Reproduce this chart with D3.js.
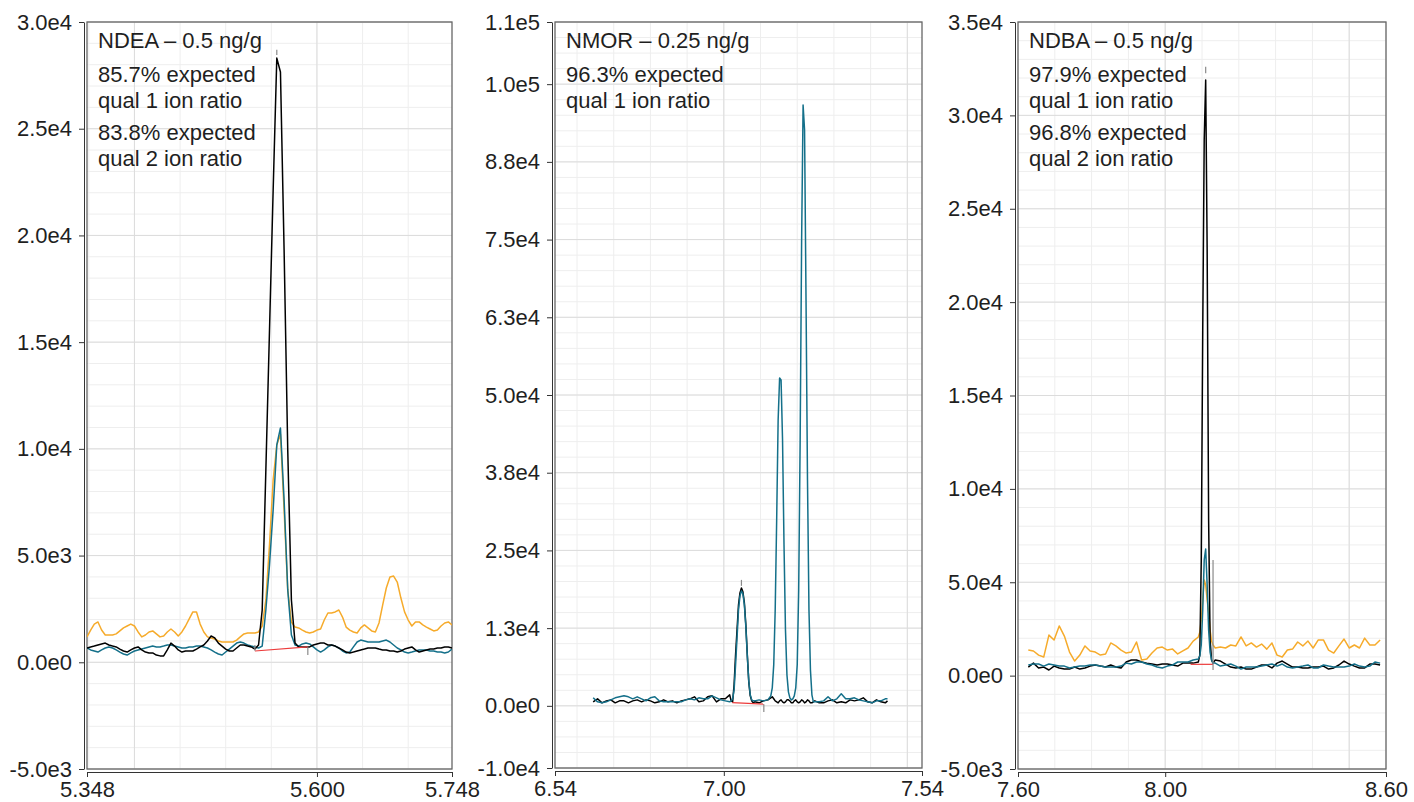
<!DOCTYPE html>
<html>
<head>
<meta charset="utf-8">
<script src="https://d3js.org/d3.v7.min.js"></script>
<style>
  body { margin: 0; background: #fff; }
  svg text { font-family: "Liberation Sans", Arial, sans-serif; fill: #1f1f1f; }
</style>
</head>
<body>
<div id="chart"></div>
<script>
"use strict"

// ---- NDEA (panel 1) ----
var ndeaTime = [5.348,5.352,5.356,5.360,5.364,5.368,5.372,5.376,5.380,5.384,
  5.388,5.392,5.396,5.400,5.404,5.408,5.412,5.416,5.420,5.424,
  5.428,5.432,5.436,5.440,5.444,5.448,5.452,5.456,5.460,5.464,
  5.468,5.472,5.476,5.480,5.484,5.488,5.492,5.496,5.500,5.504,
  5.508,5.512,5.516,5.520,5.524,5.528,5.532,5.536,5.540,5.544,
  5.548,5.552,5.556,5.560,5.564,5.568,5.572,5.576,5.580,5.584,
  5.588,5.592,5.596,5.600,5.604,5.608,5.612,5.616,5.620,5.624,
  5.628,5.632,5.636,5.640,5.644,5.648,5.652,5.656,5.660,5.664,
  5.668,5.672,5.676,5.680,5.684,5.688,5.692,5.696,5.700,5.704,
  5.708,5.712,5.716,5.720,5.724,5.728,5.732,5.736,5.740,5.744,
  5.748];
var ndeaQuant = [670,720,760,810,860,900,810,760,720,620,
  530,480,580,670,720,580,480,440,440,340,
  300,300,580,900,760,580,480,530,530,530,
  620,720,810,1000,1230,1140,900,760,620,530,
  530,670,810,810,760,720,620,810,2450,9000,
  15560,22120,28310,27660,19320,9930,2920,900,720,720,
  720,720,810,860,900,900,810,810,760,670,
  580,480,440,480,530,580,620,670,670,670,
  620,580,580,530,530,480,530,620,670,720,
  580,480,530,580,620,620,670,670,720,720,
  670];
var ndeaQual1 = [670,580,530,480,580,670,720,670,580,480,
  390,340,440,530,580,620,670,720,760,720,
  720,760,810,810,760,720,670,670,720,720,
  760,760,720,670,580,480,390,340,480,620,
  760,900,950,900,810,760,720,670,760,2450,
  4560,7140,10180,10980,7610,3390,1280,810,760,860,
  900,860,720,580,480,580,720,810,760,670,
  530,440,480,720,950,1040,1000,950,950,950,
  950,1000,1040,950,810,670,580,480,440,480,
  530,580,580,580,530,530,480,480,440,480,
  620];
var ndeaQual2 = [1190,1510,1790,1890,1510,1280,1280,1280,1330,1470,
  1610,1700,1790,1700,1420,1190,1280,1420,1470,1330,
  1190,1230,1420,1560,1420,1230,1420,1700,2030,2360,
  2360,1790,1420,1190,1140,1090,1000,950,950,950,
  950,1040,1190,1330,1370,1370,1370,1420,1700,2920,
  5500,8540,10180,10690,7140,3390,1890,1650,1610,1510,
  1420,1370,1420,1510,1560,1980,2310,2310,2360,2450,
  2120,1650,1510,1420,1370,1610,1750,1610,1470,1420,
  1840,2680,3480,4000,4040,3760,3010,2360,1980,1700,
  1890,1890,1750,1650,1560,1470,1510,1700,1840,1890,
  1750];
var ndeaBaseTime = [5.532, 5.590];
var ndeaBaseValue = [530, 720];
var ndeaMarks = [[5.556, 28450, 28700], [5.532, 540, 810], [5.590, 700, 340]];
var ndeaXTicks = [5.348, 5.600, 5.748];
var ndeaXLabels = ["5.348", "5.600", "5.748"];
var ndeaYTicks = [-5000, 0, 5000, 10000, 15000, 20000, 25000, 30000];
var ndeaYLabels = ["-5.0e3", "0.0e0", "5.0e3", "1.0e4", "1.5e4", "2.0e4", "2.5e4", "3.0e4"];
var ndeaNotes = [["NDEA – 0.5 ng/g"], ["85.7% expected", "qual 1 ion ratio"], ["83.8% expected", "qual 2 ion ratio"]];

// ---- NMOR (panel 2) ----
var nmorTime = [6.644,6.656,6.668,6.680,6.692,6.704,6.716,6.728,6.740,6.752,
  6.764,6.776,6.788,6.800,6.812,6.824,6.836,6.848,6.860,6.872,
  6.884,6.896,6.908,6.920,6.932,6.944,6.956,6.968,6.980,6.992,
  7.004,7.016,
  7.020,7.024,7.028,7.032,7.036,7.040,7.044,7.048,7.052,7.056,7.060,7.064,7.068,7.072,7.076,7.080,7.084,
  7.096,7.108,7.120,
  7.124,7.128,7.132,7.136,7.140,7.144,7.148,7.152,7.156,7.160,7.164,7.168,7.172,7.176,7.180,7.184,
  7.188,7.192,7.196,7.200,7.204,7.208,7.212,7.216,7.220,7.224,7.228,7.232,7.236,7.240,7.244,7.248,
  7.260,7.272,7.284,7.296,7.308,7.320,7.332,7.344,7.356,7.368,7.380,7.392,7.404,7.416,7.428,7.440,7.446];
var nmorQuant = [640,1130,480,800,960,480,800,800,480,800,
  960,640,960,800,480,640,960,640,800,480,
  800,960,1130,1450,640,800,1450,1610,640,1130,
  1130,1770,
  800,640,3380,8200,12220,16240,18170,18970,18330,16560,13020,8200,3860,1610,800,480,640,
  480,800,960,
  1130,1290,1450,1130,800,640,480,800,960,640,480,640,960,960,800,480,
  480,800,960,640,480,640,960,800,480,640,960,800,480,480,640,800,
  480,480,800,960,480,640,480,960,800,960,1290,640,480,960,640,480,800];
var nmorQual1 = [1290,640,480,640,960,1290,1450,1610,1450,1130,
  1450,1130,800,1290,1450,800,640,640,640,640,
  640,960,1130,960,1290,1130,1130,1610,1290,960,
  800,640,
  800,1130,2570,6590,10930,15440,17690,18490,18010,16240,12700,8040,4020,1770,960,800,800,
  960,800,960,
  1290,1610,2890,6590,15440,29910,45990,52740,52420,42770,25890,12220,4980,2250,1290,960,
  1130,1610,2890,6590,18650,42770,74930,96640,92620,65280,36340,15440,5790,1770,640,640,
  640,800,1450,800,1130,1930,1130,1130,1290,960,800,640,480,800,800,1130,1130];
var nmorBaseTime = [7.023, 7.109];
var nmorBaseValue = [530, 270];
var nmorMarks = [[7.048, 19300, 20260], [7.109, 270, -1000]];
var nmorXTicks = [6.54, 7.00, 7.54];
var nmorXLabels = ["6.54", "7.00", "7.54"];
var nmorYTicks = [-10000, 0, 12500, 25000, 37500, 50000, 62500, 75000, 87500, 100000, 110000];
var nmorYLabels = ["-1.0e4", "0.0e0", "1.3e4", "2.5e4", "3.8e4", "5.0e4", "6.3e4", "7.5e4", "8.8e4", "1.0e5", "1.1e5"];
var nmorNotes = [["NMOR – 0.25 ng/g"], ["96.3% expected", "qual 1 ion ratio"]];

// ---- NDBA (panel 3) ----
var ndbaTime = [7.628,7.642,7.656,7.670,7.684,7.698,7.712,7.726,7.740,7.754,
  7.768,7.782,7.796,7.810,7.824,7.838,7.852,7.866,7.880,7.894,
  7.908,7.922,7.936,7.950,7.964,7.978,7.992,8.006,8.020,8.034,
  8.048,8.062,8.076,
  8.090,8.094,8.098,8.102,8.106,8.110,8.114,8.118,8.122,8.126,8.130,
  8.136,8.150,8.164,8.178,8.192,8.206,8.220,8.234,8.248,8.262,
  8.276,8.290,8.304,8.318,8.332,8.346,8.360,8.374,8.388,8.402,
  8.416,8.430,8.444,8.458,8.472,8.486,8.500,8.514,8.528,8.542,
  8.556,8.570,8.584];
var ndbaQuant = [460,670,410,460,300,510,410,350,350,460,
  350,410,510,570,510,460,570,460,410,730,
  840,840,730,670,620,570,620,620,570,510,
  670,670,670,
  730,1100,6190,18490,28680,31890,22790,8330,1910,840,670,
  840,780,620,460,410,460,350,350,460,570,
  570,410,670,780,620,460,460,410,410,460,
  460,510,350,410,570,780,620,510,410,410,
  620,620,570];
var ndbaQual1 = [570,620,620,510,620,570,510,510,410,460,
  510,510,570,570,510,460,460,460,510,670,
  620,730,730,620,570,460,410,510,570,730,
  730,730,840,
  890,1050,1640,3510,6190,6780,4850,2440,1260,840,670,
  670,510,570,620,510,350,460,460,460,510,
  570,620,510,620,460,410,460,510,570,410,
  410,570,510,460,460,460,510,620,510,460,
  510,730,670];
var ndbaQual2 = [1370,1320,1100,1000,2170,1910,2660,2120,1260,780,
  1100,1590,1320,1260,1100,1160,1750,1590,1370,1210,
  1260,1800,840,890,1210,1480,1530,1370,1420,1160,
  1320,1480,1850,
  2070,2330,2980,4050,5120,4850,4050,3410,2440,1850,1640,
  1480,1530,1480,1640,1590,2070,1590,1750,1530,1690,
  1420,1750,1100,1000,1370,1420,1800,1590,1850,1480,
  1910,1910,1370,1210,1590,1960,1480,1640,1480,2010,
  1640,1640,1910];
var ndbaBaseTime = [8.069, 8.130];
var ndbaBaseValue = [605, 605];
var ndbaMarks = [[8.110, 32250, 32600], [8.130, 300, 6190]];
var ndbaXTicks = [7.60, 8.00, 8.60];
var ndbaXLabels = ["7.60", "8.00", "8.60"];
var ndbaYTicks = [-5000, 0, 5000, 10000, 15000, 20000, 25000, 30000, 35000];
var ndbaYLabels = ["-5.0e3", "0.0e0", "5.0e4", "1.0e4", "1.5e4", "2.0e4", "2.5e4", "3.0e4", "3.5e4"];
var ndbaNotes = [["NDBA – 0.5 ng/g"], ["97.9% expected", "qual 1 ion ratio"], ["96.8% expected", "qual 2 ion ratio"]];

var preto = "#000000", azul = "#14708a", laranja = "#f6ab2b", vermelho = "#ec3b3b";

var svg = d3.select("#chart").append("svg")
  .attr("width", 1414)
  .attr("height", 802);

function desenhaPainel(p, idx) {
  var x = d3.scaleLinear().domain([p.xTicks[0], p.xTicks[p.xTicks.length - 1]]).range([p.left, p.right]);
  var y = d3.scaleLinear().domain([p.yTicks[0], p.yTicks[p.yTicks.length - 1]]).range([p.bottom, p.top]);
  var g = svg.append("g");

  // grid
  var minorY = d3.range(p.yTicks[0], p.yTicks[p.yTicks.length - 1] + 1, p.minorStep);
  g.selectAll(".minY").data(minorY).enter().append("line")
    .attr("x1", p.left).attr("x2", p.right)
    .attr("y1", d => y(d)).attr("y2", d => y(d))
    .attr("stroke", "#eeeeee").attr("stroke-width", 1);
  g.selectAll(".minX").data(x.ticks(8)).enter().append("line")
    .attr("x1", d => x(d)).attr("x2", d => x(d))
    .attr("y1", p.top).attr("y2", p.bottom)
    .attr("stroke", "#eeeeee").attr("stroke-width", 1);
  g.selectAll(".majY").data(p.yTicks).enter().append("line")
    .attr("x1", p.left).attr("x2", p.right)
    .attr("y1", d => y(d)).attr("y2", d => y(d))
    .attr("stroke", "#dcdcdc").attr("stroke-width", 1);
  g.selectAll(".majX").data(x.ticks(2)).enter().append("line")
    .attr("x1", d => x(d)).attr("x2", d => x(d))
    .attr("y1", p.top).attr("y2", p.bottom)
    .attr("stroke", "#dcdcdc").attr("stroke-width", 1);

  // box
  g.append("rect")
    .attr("x", p.left).attr("y", p.top)
    .attr("width", p.right - p.left).attr("height", p.bottom - p.top)
    .attr("fill", "none").attr("stroke", "#666").attr("stroke-width", 1.3);

  var clipId = "clip" + idx;
  g.append("clipPath").attr("id", clipId).append("rect")
    .attr("x", p.left).attr("y", p.top)
    .attr("width", p.right - p.left).attr("height", p.bottom - p.top);

  var tracos = g.append("g").attr("clip-path", "url(#" + clipId + ")");
  p.series.forEach(function(s) {
    var linha = d3.line()
      .x((d, i) => x(p.time[i]))
      .y(d => y(d));
    tracos.append("path")
      .datum(s.values)
      .attr("fill", "none")
      .attr("stroke", s.color)
      .attr("stroke-width", 1.5)
      .attr("stroke-linejoin", "round")
      .attr("d", linha);
  });

  // integration baseline and peak marks
  tracos.append("line")
    .attr("x1", x(p.baseTime[0])).attr("y1", y(p.baseValue[0]))
    .attr("x2", x(p.baseTime[1])).attr("y2", y(p.baseValue[1]))
    .attr("stroke", vermelho).attr("stroke-width", 1.2);
  tracos.selectAll(".mark").data(p.marks).enter().append("line")
    .attr("x1", d => x(d[0])).attr("x2", d => x(d[0]))
    .attr("y1", d => y(d[1])).attr("y2", d => y(d[2]))
    .attr("stroke", "#8a8a8a").attr("stroke-width", 1.2);

  // axes
  var eixoY = g.append("g")
    .attr("transform", "translate(" + (p.left - 3) + ",0)")
    .call(d3.axisLeft(y).tickValues(p.yTicks).tickFormat((d, i) => p.yLabels[i])
      .tickSize(5).tickSizeOuter(0).tickPadding(7));
  var eixoX = g.append("g")
    .attr("transform", "translate(0," + (p.bottom + 3) + ")")
    .call(d3.axisBottom(x).tickValues(p.xTicks).tickFormat((d, i) => p.xLabels[i])
      .tickSize(5).tickSizeOuter(0).tickPadding(4));
  [eixoY, eixoX].forEach(function(e) {
    e.attr("font-size", 22).attr("font-family", null).attr("color", "#333");
    e.selectAll("text").style("fill", "#1f1f1f");
  });

  // annotation
  var linhasY = [[48], [82, 108], [140, 166]];
  p.notes.forEach(function(bloco, b) {
    bloco.forEach(function(t, j) {
      g.append("text")
        .attr("x", p.left + 11)
        .attr("y", linhasY[b][j])
        .attr("font-size", 22)
        .text(t);
    });
  });
}

var paineis = [
  { left: 87, right: 452, top: 22, bottom: 769, minorStep: 1000,
    time: ndeaTime, xTicks: ndeaXTicks, xLabels: ndeaXLabels, yTicks: ndeaYTicks, yLabels: ndeaYLabels,
    series: [{ values: ndeaQual2, color: laranja }, { values: ndeaQual1, color: azul }, { values: ndeaQuant, color: preto }],
    baseTime: ndeaBaseTime, baseValue: ndeaBaseValue, marks: ndeaMarks, notes: ndeaNotes },
  { left: 555, right: 922, top: 22, bottom: 768, minorStep: 2500,
    time: nmorTime, xTicks: nmorXTicks, xLabels: nmorXLabels, yTicks: nmorYTicks, yLabels: nmorYLabels,
    series: [{ values: nmorQuant, color: preto }, { values: nmorQual1, color: azul }],
    baseTime: nmorBaseTime, baseValue: nmorBaseValue, marks: nmorMarks, notes: nmorNotes },
  { left: 1018, right: 1386, top: 22, bottom: 769, minorStep: 1000,
    time: ndbaTime, xTicks: ndbaXTicks, xLabels: ndbaXLabels, yTicks: ndbaYTicks, yLabels: ndbaYLabels,
    series: [{ values: ndbaQual2, color: laranja }, { values: ndbaQuant, color: preto }, { values: ndbaQual1, color: azul }],
    baseTime: ndbaBaseTime, baseValue: ndbaBaseValue, marks: ndbaMarks, notes: ndbaNotes }
];

paineis.forEach(desenhaPainel);
</script>
</body>
</html>
